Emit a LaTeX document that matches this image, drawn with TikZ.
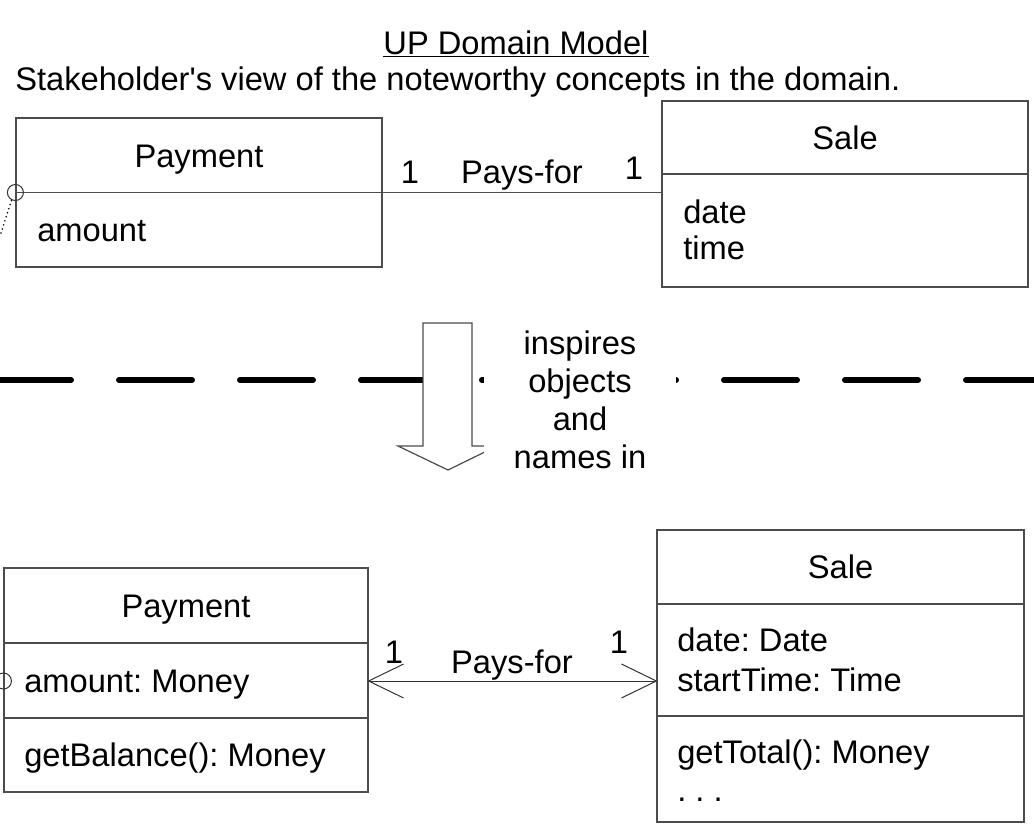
\documentclass[tikz,border=0pt]{standalone}
\usepackage{fontspec}
\setmainfont{Liberation Sans}
\usetikzlibrary{calc}
\frenchspacing
\begin{document}
\begin{tikzpicture}[x=0.75pt,y=-0.75pt,
  box/.style={draw=black!70,line width=0.9pt,inner sep=0pt,rectangle},
  txt/.style={font=\fontsize{24.5}{28.5}\selectfont,inner sep=0pt},
  attr/.style={txt,anchor=west,text height=17.6pt,text depth=0pt},
  mid/.style={txt,text height=17.6pt,text depth=0pt},
  conn/.style={draw=black!70,line width=0.9pt},
  thin/.style={draw=black!80,line width=0.75pt},
]
\useasboundingbox (0,0) rectangle (1034,833);

% titles
\node[txt] (title) at (516,44) {\underline{UP Domain Model}};
\node[attr] (sub) at (15,79) {Stakeholder\textquotesingle s view of the noteworthy concepts in the domain.};

% upper domain model
\node[box,minimum width=274.5pt,minimum height=111.75pt] (payA) at (199,192.5) {};
\draw[conn] (payA.west) -- (payA.east);
\node[mid] (payAn) at (199,155.5) {Payment};
\node[attr] (payAa) at (37,230) {amount};

\node[box,minimum width=274.5pt,minimum height=139.5pt] (saleA) at (845,194) {};
\draw[conn] (saleA.west |- 0,174) -- (saleA.east |- 0,174);
\node[mid] (saleAn) at (845,137.5) {Sale};
\node[attr] (saleAa) at (683,212) {date};
\node[attr] (saleAb) at (683,248) {time};

\draw[conn] (payA.east) -- (saleA.west |- payA.east);
\node[mid] (mA1) at (410,172) {1};
\node[mid] (pfA) at (522,172) {Pays-for};
\node[mid] (mA2) at (634,168) {1};

\draw[thin] (payA.west) circle[radius=6pt];
\coordinate (dotA) at ($(payA.west)+(-4,8)$);
\coordinate (dotB) at (0,236);
\draw[draw=black,line width=1.3pt,line cap=round,dash pattern=on 0pt off 3.2pt] (dotA) -- (dotB);

% separator
\coordinate (sepL) at (-2,380);
\coordinate (sepR) at (1040,380);
\draw[line width=4.5pt,line cap=round,dash pattern=on 54.75pt off 36pt] (sepL) -- (sepR);

% big hollow arrow
\draw[conn,fill=white] (423,323) -- (472,323) -- (472,446) -- (497,446) -- (448,470) -- (398,446) -- (423,446) -- cycle;
\node[txt,fill=white,align=center,minimum width=144pt] (insp) at (580,400) {inspires\\objects\\and\\names in};

% lower design model
\node[box,minimum width=273pt,minimum height=168pt] (payB) at (186,680) {};
\draw[conn] (payB.west |- 0,643) -- (payB.east |- 0,643);
\draw[conn] (payB.west |- 0,718) -- (payB.east |- 0,718);
\node[mid] (payBn) at (186,605.5) {Payment};
\node[attr] (payBa) at (24,681) {amount: Money};
\node[attr] (payBo) at (24,755) {getBalance(): Money};

\node[box,minimum width=275.25pt,minimum height=219pt] (saleB) at (840.5,676) {};
\draw[conn] (saleB.west |- 0,604) -- (saleB.east |- 0,604);
\draw[conn] (saleB.west |- 0,716) -- (saleB.east |- 0,716);
\node[mid] (saleBn) at (840.5,567) {Sale};
\node[attr] (saleBa) at (677,640) {date: Date};
\node[attr] (saleBb) at (677,680) {startTime: Time};
\node[attr] (saleBo) at (677,752) {getTotal(): Money};
\node[attr] (saleBd) at (677,790) {.\ .\ .};

\coordinate (pL) at (payB.east |- 0,681);
\coordinate (sR) at (saleB.west |- 0,681);
\draw[thin] (pL) -- (sR);
\draw[thin] ($(pL)+(35,-17)$) -- (pL) -- ($(pL)+(35,17)$);
\draw[thin] ($(sR)+(-35,-17)$) -- (sR) -- ($(sR)+(-35,17)$);
\node[mid] (mB1) at (394,652) {1};
\node[mid] (pfB) at (512,662) {Pays-for};
\node[mid] (mB2) at (619,642) {1};

\draw[thin] (payB.west |- 0,681) circle[radius=6pt];
\end{tikzpicture}
\end{document}
